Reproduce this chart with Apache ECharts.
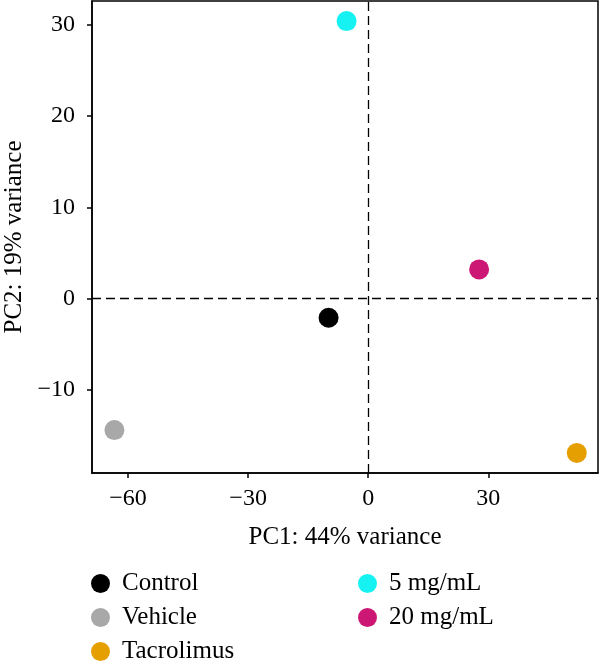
<!DOCTYPE html>
<html>
<head>
<meta charset="utf-8">
<script src="https://cdn.jsdelivr.net/npm/echarts@6/dist/echarts.min.js"></script>
<style>
	html,body{margin:0;padding:0;background:#fff;}
	#pca{width:600px;height:661px;}
</style>
</head>
<body>
<div id="pca"></div>
<script>
// PCA scores, one point per group
var groups = ['Control', 'Vehicle', 'Tacrolimus', '5 mg/mL', '20 mg/mL'];
var pc1 = [-9.9, -63.4, 52.1, -5.4, 27.7];
var pc2 = [-2.1, -14.4, -16.9, 30.4, 3.2];
var colors = ['#000000', '#a8a8a8', '#e69f00', '#16f2f2', '#cc1874'];

var xTicks = [-60, -30, 0, 30];
var yTicks = [-10, 0, 10, 20, 30];

var font = 'Liberation Serif';
var chart = echarts.init(document.getElementById('pca'));

function fmt(v){
	return v < 0 ? '\u2212' + Math.abs(v) : String(v);
}

var series = groups.map(function(g, i){
	return {
		name: g,
		type: 'scatter',
		symbol: 'circle',
		symbolSize: 20,
		itemStyle: {color: colors[i], opacity: 1},
		data: [[pc1[i], pc2[i]]]
	};
});
// dashed zero lines
series[0].markLine = {
	silent: true,
	symbol: 'none',
	label: {show: false},
	lineStyle: {color: '#000', type: [9, 5], width: 1.3},
	data: [{xAxis: 0}, {yAxis: 0}]
};

var legendBase = {
	orient: 'vertical',
	height: 120,
	icon: 'circle',
	itemWidth: 19,
	itemHeight: 19,
	itemGap: 9,
	padding: 0,
	textStyle: {fontFamily: font, fontSize: 25, color: '#000', padding: [0, 0, 0, 7]},
	selectedMode: false
};

option = {
	animation: false,
	grid: {
		left: 92, right: 2, top: 1, bottom: 188,
		containLabel: false,
		outerBoundsMode: 'none',
		show: true, borderColor: '#000', borderWidth: 1.5
	},
	legend: [
		Object.assign({left: 91, top: 571, data: groups.slice(0, 3)}, legendBase),
		Object.assign({left: 358, top: 571, data: groups.slice(3)}, legendBase)
	],
	xAxis: {
		type: 'value',
		min: -69, max: 57.4,
		name: 'PC1: 44% variance',
		nameLocation: 'middle',
		nameGap: 52,
		nameTextStyle: {fontFamily: font, fontSize: 25, color: '#000'},
		splitLine: {show: false},
		axisLine: {onZero: false, lineStyle: {color: '#000', width: 1.5}},
		axisTick: {show: true, length: 5, customValues: xTicks, lineStyle: {color: '#000', width: 1.5}},
		axisLabel: {customValues: xTicks, formatter: fmt, margin: 14, fontFamily: font, fontSize: 24, color: '#000'}
	},
	yAxis: {
		type: 'value',
		min: -19.1, max: 32.6,
		name: 'PC2: 19% variance',
		nameLocation: 'middle',
		nameGap: 63,
		nameTextStyle: {fontFamily: font, fontSize: 25, color: '#000'},
		splitLine: {show: false},
		axisLine: {onZero: false, lineStyle: {color: '#000', width: 1.5}},
		axisTick: {show: true, length: 5, customValues: yTicks, lineStyle: {color: '#000', width: 1.5}},
		axisLabel: {customValues: yTicks, formatter: fmt, margin: 17, fontFamily: font, fontSize: 24, color: '#000'}
	},
	series: series
};

chart.setOption(option);
</script>
</body>
</html>
